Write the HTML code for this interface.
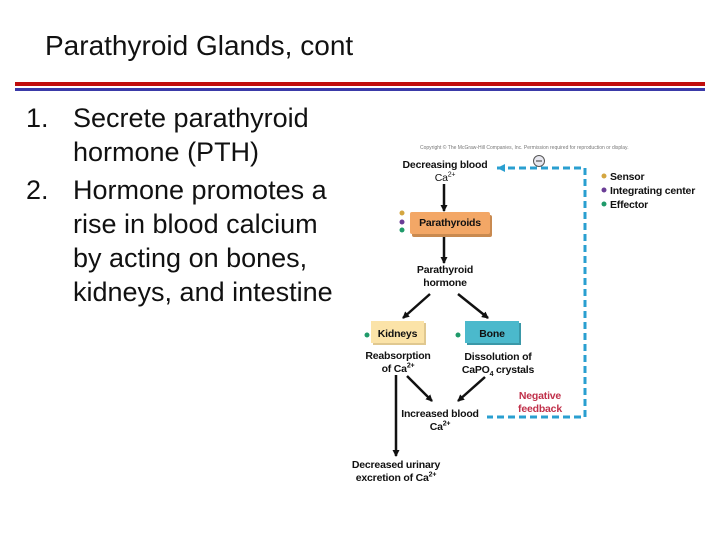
<!DOCTYPE html>
<html><head><style>
body{margin:0;width:720px;height:540px;background:#fff;position:relative;overflow:hidden;font-family:"Liberation Sans",sans-serif}
.a{position:absolute}
.t{font-size:10.5px;font-weight:bold;text-align:center;color:#111;line-height:13px;letter-spacing:-0.2px}
.t sup,.t sub{font-size:7px;line-height:0}
.li{font-size:27px;line-height:34px;color:#111}
</style></head><body>
<div class="a" style="left:45px;top:30px;font-size:28px;color:#111">Parathyroid Glands, cont</div>
<div class="a" style="left:15px;top:82px;width:690px;height:4px;background:#c00d0d"></div>
<div class="a" style="left:15px;top:88px;width:690px;height:3px;background:#3a3aa8"></div>
<div class="a li" style="left:26px;top:101px">1.</div>
<div class="a li" style="left:73px;top:101px">Secrete parathyroid<br>hormone (PTH)</div>
<div class="a li" style="left:26px;top:173px">2.</div>
<div class="a li" style="left:73px;top:173px">Hormone promotes a<br>rise in blood calcium<br>by acting on bones,<br>kidneys, and intestine</div>

<div class="a" style="left:420px;top:145px;font-size:5px;color:#777">Copyright © The McGraw-Hill Companies, Inc. Permission required for reproduction or display.</div>

<svg class="a" style="left:0;top:0" width="720" height="540">
<defs><marker id="m" markerUnits="userSpaceOnUse" markerWidth="7" markerHeight="7" refX="6" refY="3.5" orient="auto"><path d="M0,0L7,3.5L0,7z" fill="#111"/></marker></defs>
<polyline points="497,168 585,168 585,417 487,417" fill="none" stroke="#2a9fd0" stroke-width="3" stroke-dasharray="7,4"/>
<path d="M497,168l8,-4v8z" fill="#2a9fd0"/>
<circle cx="539" cy="161" r="5.5" fill="#e8e8f0" stroke="#555"/><line x1="536" y1="161" x2="542" y2="161" stroke="#333"/>
<g stroke="#111" stroke-width="2.5" marker-end="url(#m)">
<line x1="444" y1="184" x2="444" y2="211"/>
<line x1="444" y1="237" x2="444" y2="263"/>
<line x1="430" y1="294" x2="403" y2="318"/>
<line x1="458" y1="294" x2="488" y2="318"/>
<line x1="396" y1="375" x2="396" y2="456"/>
<line x1="407" y1="376" x2="432" y2="401"/>
<line x1="485" y1="377" x2="458" y2="401"/>
</g>
<circle cx="402" cy="213" r="2.5" fill="#d4a640"/><circle cx="402" cy="222" r="2.5" fill="#6a3d96"/><circle cx="402" cy="230" r="2.5" fill="#1f9a6a"/>
<circle cx="367" cy="335" r="2.5" fill="#1f9a6a"/><circle cx="458" cy="335" r="2.5" fill="#1f9a6a"/>
<circle cx="604" cy="176" r="2.5" fill="#d4a640"/><circle cx="604" cy="190" r="2.5" fill="#6a3d96"/><circle cx="604" cy="204" r="2.5" fill="#1f9a6a"/>
</svg>

<div class="a" style="left:410px;top:212px;width:80px;height:22px;background:#f3a766;box-shadow:2px 3px 0 #c98a50;border-radius:2px"></div>
<div class="a t" style="left:410px;top:217px;width:80px">Parathyroids</div>
<div class="a" style="left:371px;top:321px;width:53px;height:22px;background:#fbe3a8;box-shadow:2px 2px 0 #e0c890"></div>
<div class="a t" style="left:371px;top:328px;width:53px">Kidneys</div>
<div class="a" style="left:465px;top:321px;width:54px;height:22px;background:#4bb9cc;box-shadow:2px 2px 0 #3a98a8"></div>
<div class="a t" style="left:465px;top:328px;width:54px">Bone</div>

<div class="a t" style="left:390px;top:159px;width:110px">Decreasing blood<br><span style="font-weight:normal">Ca<sup>2+</sup></span></div>
<div class="a t" style="left:395px;top:264px;width:100px">Parathyroid<br>hormone</div>
<div class="a t" style="left:353px;top:350px;width:90px">Reabsorption<br>of Ca<sup>2+</sup></div>
<div class="a t" style="left:450px;top:351px;width:96px">Dissolution of<br>CaPO<sub>4</sub> crystals</div>
<div class="a t" style="left:390px;top:408px;width:100px">Increased blood<br>Ca<sup>2+</sup></div>
<div class="a t" style="left:340px;top:459px;width:112px">Decreased urinary<br>excretion of Ca<sup>2+</sup></div>
<div class="a t" style="left:505px;top:390px;width:70px;color:#c0304a">Negative<br>feedback</div>
<div class="a t" style="left:610px;top:170px;text-align:left;line-height:14px">Sensor<br>Integrating center<br>Effector</div>
</body></html>
